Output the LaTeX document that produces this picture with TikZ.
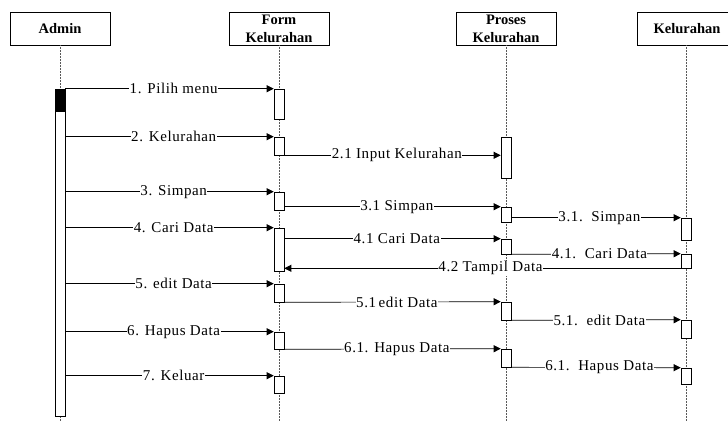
\documentclass[tikz,border=0pt]{standalone}
\usepackage{fontspec}
\setmainfont{Liberation Serif}
\newfontfamily\lblfont[LetterSpace=4]{Liberation Serif}
\usetikzlibrary{arrows.meta,positioning}

\begin{document}
\begin{tikzpicture}[
    x=1pt,y=-1pt,
    font=\fontsize{14}{17}\selectfont,
    obj/.style={draw,fill=white,minimum width=100pt,minimum height=33pt,inner sep=0pt,
      align=center,line width=0.6pt,font=\fontsize{14.5}{18}\selectfont\bfseries},
    life/.style={densely dotted,gray!70!black,line width=0.5pt},
    act/.style={draw,fill=white,minimum width=10pt,minimum height=#1,inner sep=0pt,line width=0.6pt},
    msg/.style={-{Triangle[length=7pt,width=7pt]},line width=0.7pt},
    lbl/.style={fill=white,inner sep=0.5pt,pos=0.52,font=\lblfont\fontsize{15}{18}\selectfont},
  ]

\useasboundingbox (0,0) rectangle (728,421);
\coordinate (bot) at (0,421);

% ======================= objects and lifelines =======================
\node[obj] (admin) at (60,28.5) {Admin};
\node[obj] (form) at (279,28.5) {Form\\Kelurahan};
\node[obj] (proses) at (506,28.5) {Proses\\Kelurahan};
\node[obj] (kel) at (687,28.5) {Kelurahan};

\draw[life] (admin.south) -- (admin.south |- bot);
\draw[life] (form.south) -- (form.south |- bot);
\draw[life] (proses.south) -- (proses.south |- bot);
\draw[life] (kel.south) ++(-1,0) -- ++(0,376);

% ======================= activations =======================
% admin
\node[act=327pt] (aact) at (60,252.5) {};
\fill (aact.north west) rectangle ++(10,23);

% form kelurahan
\node[act=30pt] (f1) at (279,104) {};
\node[act=18pt] (f2) at (279,146) {};
\node[act=18pt] (f3) at (279,201) {};
\node[act=43pt] (f4) at (279,249.5) {};
\node[act=18pt] (f5) at (279,293) {};
\node[act=17pt] (f6) at (279,340.5) {};
\node[act=17pt] (f7) at (279,384.5) {};

% proses kelurahan
\node[act=41pt] (p21) at (506,157.5) {};
\node[act=15pt] (p31) at (506,214.5) {};
\node[act=15pt] (p41) at (506,246.5) {};
\node[act=18pt] (p51) at (506,311) {};
\node[act=18pt] (p61) at (506,358) {};

% kelurahan
\node[act=22pt] (k31) at (686,229) {};
\node[act=14pt] (k41) at (686,261) {};
\node[act=18pt] (k51) at (686,329) {};
\node[act=16pt] (k61) at (686,376) {};

% ======================= messages =======================
\draw[msg] (aact.east |- f1.north) -- (f1.north west) node[lbl] {1. Pilih menu};
\draw[msg] (aact.east |- f2.north) -- (f2.north west) node[lbl] {2. Kelurahan};
\draw[msg] (f2.south east) -- (p21.west |- f2.south) node[lbl] {2.1 Input Kelurahan};

\draw[msg] (aact.east |- f3.north) -- (f3.north west) node[lbl] {3. Simpan};
\draw[msg] (f3.east |- p31.north) -- (p31.north west) node[lbl] {3.1 Simpan};
\draw[msg] (p31.east |- k31.north) -- (k31.north west) node[lbl] {3.1.~~Simpan};

\draw[msg] (aact.east |- f4.north) -- (f4.north west) node[lbl] {4. Cari Data};
\draw[msg] (f4.east |- p41.north) -- (p41.north west) node[lbl] {4.1 Cari Data};
\draw[msg] (p41.south east) -- (k41.north west) node[lbl] {4.1.~~Cari Data};
\draw[msg] (k41.south west) -- (f4.east |- k41.south) node[lbl,pos=0.48] {4.2 Tampil Data};

\draw[msg] (aact.east |- f5.north) -- (f5.north west) node[lbl] {5. edit Data};
\draw[msg] (f5.south east) -- (p51.north west) node[lbl] {5.1\,edit Data};
\draw[msg] (p51.south east) -- (k51.north west) node[lbl] {5.1.~~edit Data};

\draw[msg] (aact.east |- f6.north) -- (f6.north west) node[lbl] {6. Hapus Data};
\draw[msg] (f6.south east) -- (p61.north west) node[lbl] {6.1. Hapus Data};
\draw[msg] (p61.south east) -- (k61.north west) node[lbl] {6.1.~~Hapus Data};

\draw[msg] (aact.east |- f7.north) -- (f7.north west) node[lbl] {7. Keluar};

\end{tikzpicture}
\end{document}
